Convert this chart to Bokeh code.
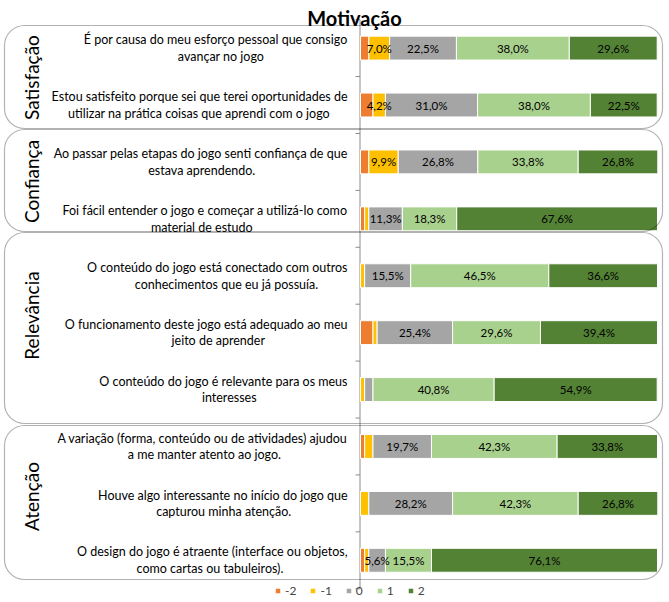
import numpy as np
from bokeh.plotting import figure
from bokeh.models import ColumnDataSource, Range1d, Legend, LegendItem, BoxAnnotation
from bokeh.core.properties import value
from bokeh.embed import file_html
from bokeh.resources import INLINE

# ---------------- data ----------------
title = "Motivação"
groups = ["Satisfação", "Confiança", "Relevância", "Atenção"]
statements = [
    ["É por causa do meu esforço pessoal que consigo", "avançar no jogo"],
    ["Estou satisfeito porque sei que terei oportunidades de", "utilizar na prática coisas que aprendi com o jogo"],
    ["Ao passar pelas etapas do jogo senti confiança de que", "estava aprendendo."],
    ["Foi fácil entender o jogo e começar a utilizá-lo como", "material de estudo"],
    ["O conteúdo do jogo está conectado com outros", "conhecimentos que eu já possuía."],
    ["O funcionamento deste jogo está adequado ao meu", "jeito de aprender"],
    ["O conteúdo do jogo é relevante para os meus", "interesses"],
    ["A variação (forma, conteúdo ou de atividades) ajudou", "a me manter atento ao jogo."],
    ["Houve algo interessante no início do jogo que", "capturou minha atenção."],
    ["O design do jogo é atraente (interface ou objetos,", "como cartas ou tabuleiros)."],
]
levels = ["-2", "-1", "0", "1", "2"]
v_m2 = [2.8, 4.2, 2.8, 1.4, 0.0, 4.2, 0.0, 1.4, 0.0, 1.4]
v_m1 = [7.0, 4.2, 9.9, 1.4, 1.4, 1.4, 1.4, 2.8, 2.8, 1.4]
v_0 = [22.5, 31.0, 26.8, 11.3, 15.5, 25.4, 2.8, 19.7, 28.2, 5.6]
v_1 = [38.0, 38.0, 33.8, 18.3, 46.5, 29.6, 40.8, 42.3, 42.3, 15.5]
v_2 = [29.6, 22.5, 26.8, 67.6, 36.6, 39.4, 54.9, 33.8, 26.8, 76.1]

# ---------------- style / layout ----------------
colors = ["#ED7D31", "#FFC000", "#A5A5A5", "#A9D18E", "#548235"]
W, H = 669, 602
X0_PX, PX_PER_UNIT = 360.0, 2.97       # bar origin and scale
Y0_PX, PX_PER_ROW = 47.6, 56.91        # first row centre and row pitch
FONT = value("Lato")

def dx(px):
    return (px - X0_PX) / PX_PER_UNIT

def dy(py):
    return (py - Y0_PX) / PX_PER_ROW

p = figure(width=W, height=H, output_backend="svg", toolbar_location=None,
           x_range=Range1d(dx(0), dx(W)), y_range=Range1d(dy(H), dy(0)),
           x_axis_location=None, y_axis_location=None, min_border=0)
p.grid.visible = False
p.outline_line_color = None
p.background_fill_color = "white"
p.border_fill_color = "white"

n = len(statements)
rows = list(range(n))
series = [v_m2, v_m1, v_0, v_1, v_2]

# group boxes (pixel extents of the decorative rounded frames)
box_px = [(25, 128), (129, 231), (232, 423), (425, 579)]
label_px = [77, 181, 315, 496]
for (t, b) in box_px:
    p.add_layout(BoxAnnotation(left=dx(4), right=dx(662), top=dy(t), bottom=dy(b),
                               fill_color=None, fill_alpha=0, line_color="black",
                               line_width=1.2, border_radius=20))
p.text(x=[dx(31)] * len(groups), y=[dy(v) for v in label_px], text=groups,
       angle=np.pi / 2, text_align="center", text_baseline="middle",
       text_font=FONT, text_font_size="19px", text_color="black")

# axis line and ticks
bounds = [i - 0.5 for i in range(n + 1)]
p.segment(x0=[dx(359.5)], y0=[bounds[0]], x1=[dx(359.5)], y1=[bounds[-1]],
          line_color="#8C8C8C", line_width=1)
p.segment(x0=[dx(355)] * len(bounds), y0=bounds, x1=[dx(359.5)] * len(bounds), y1=bounds,
          line_color="#8C8C8C", line_width=1)

# bars
src = ColumnDataSource(dict(y=rows, **{lv: s for lv, s in zip(levels, series)}))
rs = p.hbar_stack(levels, y="y", height=0.42, fill_color=colors, line_color="white",
                  line_width=1, source=src)

# data labels (the -2 series is not labelled; tiny segments neither)
lx, ly, lt = [], [], []
for i in rows:
    left = 0.0
    for k, s in enumerate(series):
        v = s[i]
        if k > 0 and v >= 4:
            lx.append(left + v / 2)
            ly.append(i)
            lt.append(f"{v:.1f}".replace(".", ",") + "%")
        left += v
p.text(x=lx, y=ly, text=lt, text_align="center", text_baseline="middle",
       text_font=FONT, text_font_size="11.5px", text_color="black")

# category labels: first (longest) line right-aligned near the axis,
# second line centred under it
RIGHT_PX, CHAR_PX, HALF_GAP = 347, 5.5, 8.3
y1, y2, t1, t2, c2 = [], [], [], [], []
for i, (a, b) in enumerate(statements):
    c2.append(dx(RIGHT_PX - len(a) * CHAR_PX / 2))
    y1.append(i - HALF_GAP / PX_PER_ROW)
    y2.append(i + HALF_GAP / PX_PER_ROW)
    t1.append(a)
    t2.append(b)
p.text(x=[dx(RIGHT_PX)] * n, y=y1, text=t1, text_align="right", text_baseline="middle",
       text_font=FONT, text_font_size="12.5px", text_color="black")
p.text(x=c2, y=y2, text=t2, text_align="center", text_baseline="middle",
       text_font=FONT, text_font_size="12.5px", text_color="black")

# title
p.text(x=[dx(354)], y=[dy(17.5)], text=[title], text_align="center", text_baseline="alphabetic",
       text_font=FONT, text_font_size="20px", text_font_style="bold", text_color="black")

# legend
legend = Legend(items=[LegendItem(label=lv, renderers=[r]) for lv, r in zip(levels, rs)],
                orientation="horizontal", location=(274, 4),
                glyph_width=7, glyph_height=7, label_standoff=4, spacing=13,
                label_width=0, label_height=12, padding=0, margin=0,
                label_text_font="Lato", label_text_font_size="12px",
                border_line_color=None, background_fill_alpha=0)
p.add_layout(legend, "center")

open("out.html", "w").write(file_html(p, INLINE))
